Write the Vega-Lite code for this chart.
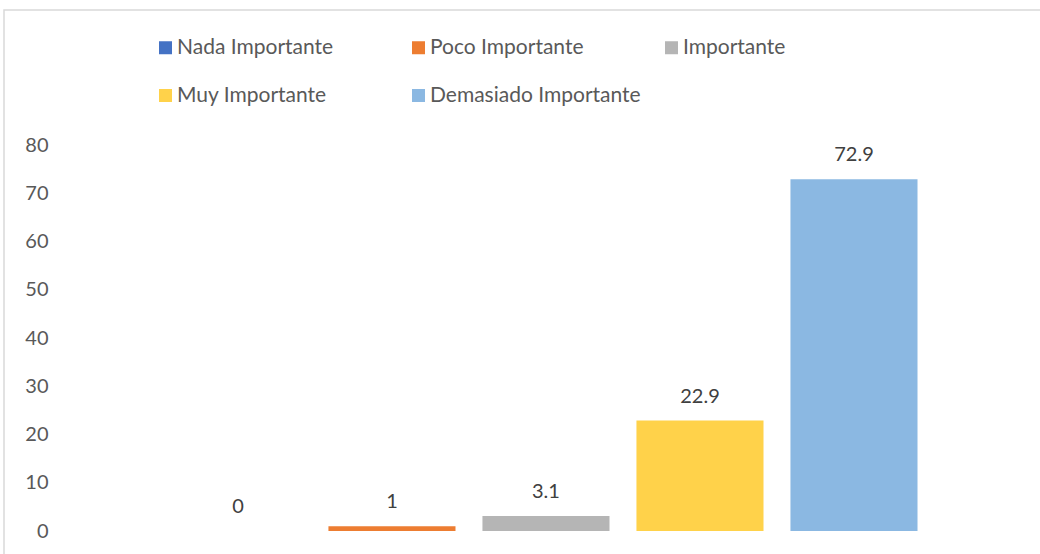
{
  "$schema": "https://vega.github.io/schema/vega-lite/v6.json",
  "width": 1040,
  "height": 550,
  "padding": {"left": 4, "top": 10, "right": 0, "bottom": 0},
  "autosize": {"type": "none"},
  "background": "#ffffff",
  "config": {
    "view": {"stroke": "#D9D9D9", "strokeWidth": 1.5},
    "font": "Lato"
  },
  "data": {
    "values": [
      {"cat": "Nada Importante", "value": 0},
      {"cat": "Poco Importante", "value": 1},
      {"cat": "Importante", "value": 3.1},
      {"cat": "Muy Importante", "value": 22.9},
      {"cat": "Demasiado Importante", "value": 72.9}
    ]
  },
  "encoding": {
    "x": {
      "field": "cat",
      "type": "nominal",
      "sort": null,
      "scale": {"paddingInner": 0.175, "paddingOuter": 0.964, "align": 0.574},
      "axis": null
    },
    "y": {
      "field": "value",
      "type": "quantitative",
      "scale": {"domain": [-6.01, 107.98], "nice": false, "zero": false},
      "axis": {
        "values": [0, 10, 20, 30, 40, 50, 60, 70, 80],
        "offset": -50,
        "labelPadding": 6,
        "ticks": false,
        "domain": false,
        "grid": false,
        "title": null,
        "labelFontSize": 20,
        "labelColor": "#595959",
        "labelFont": "Lato"
      }
    }
  },
  "layer": [
    {
      "mark": {"type": "bar"},
      "encoding": {
        "color": {
          "field": "cat",
          "type": "nominal",
          "sort": null,
          "scale": {
            "domain": ["Nada Importante", "Poco Importante", "Importante", "Muy Importante", "Demasiado Importante"],
            "range": ["#4472C4", "#ED7D31", "#B5B5B5", "#FFD24A", "#8BB8E2"]
          },
          "legend": {
            "orient": "none",
            "legendX": 151,
            "legendY": 27,
            "direction": "horizontal",
            "columns": 3,
            "gridAlign": "all",
            "columnPadding": 20,
            "rowPadding": 26,
            "padding": 0,
            "title": null,
            "symbolType": "square",
            "symbolSize": 169,
            "symbolStrokeWidth": 0,
            "symbolOpacity": 1,
            "labelFontSize": 21,
            "labelColor": "#595959",
            "labelFont": "Lato",
            "labelOffset": 1,
            "labelLimit": 400
          }
        }
      }
    },
    {
      "mark": {"type": "text", "dy": -24, "fontSize": 20, "color": "#404040", "font": "Lato", "baseline": "middle"},
      "encoding": {
        "text": {"field": "value", "type": "quantitative"}
      }
    }
  ]
}
